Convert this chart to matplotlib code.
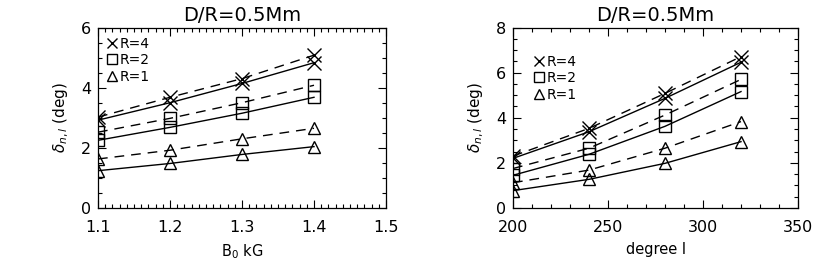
import matplotlib
matplotlib.use("Agg")
import matplotlib.pyplot as plt
from matplotlib.lines import Line2D
from matplotlib.ticker import MultipleLocator

# ---- data ----
b0 = [1.1, 1.2, 1.3, 1.4]
left_r4_solid = [2.92, 3.50, 4.14, 4.83]
left_r4_dash = [3.02, 3.68, 4.30, 5.08]
left_r2_solid = [2.25, 2.68, 3.15, 3.68]
left_r2_dash = [2.52, 2.98, 3.50, 4.08]
left_r1_solid = [1.24, 1.48, 1.78, 2.04]
left_r1_dash = [1.63, 1.92, 2.30, 2.65]

degree = [200, 240, 280, 320]
right_r4_solid = [2.20, 3.38, 4.86, 6.46]
right_r4_dash = [2.30, 3.53, 5.08, 6.71]
right_r2_solid = [1.45, 2.38, 3.62, 5.16]
right_r2_dash = [1.75, 2.65, 4.12, 5.70]
right_r1_solid = [0.77, 1.27, 1.98, 2.94]
right_r1_dash = [1.12, 1.68, 2.65, 3.83]

legend_labels = ["R=4", "R=2", "R=1"]
title = "D/R=0.5Mm"

plt.rcParams['font.family'] = ['DejaVu Sans']
plt.rcParams['mathtext.fontset'] = 'dejavusans'

fig = plt.figure(figsize=(8.13, 2.71), dpi=100)
W, H = 813, 271
ax1 = fig.add_axes([98 / W, 1 - 208 / H, (386 - 98) / W, (208 - 27.5) / H])
ax2 = fig.add_axes([513 / W, 1 - 208 / H, (798 - 513) / W, (208 - 27.5) / H])

markers = {"R=4": ("x", 10), "R=2": ("s", 9), "R=1": ("^", 9)}
dash = (7, 5)


def draw(ax, x, series):
    for label, solid, dashed in series:
        m, ms = markers[label]
        kw = dict(color='black', marker=m, markersize=ms, markerfacecolor='none',
                  markeredgecolor='black', markeredgewidth=1.0, lw=1.0)
        ax.plot(x, solid, ls='-', **kw)
        ax.plot(x, dashed, ls=(0, dash), **kw)


draw(ax1, b0, [("R=4", left_r4_solid, left_r4_dash),
               ("R=2", left_r2_solid, left_r2_dash),
               ("R=1", left_r1_solid, left_r1_dash)])
draw(ax2, degree, [("R=4", right_r4_solid, right_r4_dash),
                   ("R=2", right_r2_solid, right_r2_dash),
                   ("R=1", right_r1_solid, right_r1_dash)])

ax1.set_xlim(1.1, 1.5)
ax1.set_ylim(0, 6)
ax1.xaxis.set_major_locator(MultipleLocator(0.1))
ax1.xaxis.set_minor_locator(MultipleLocator(0.01))
ax1.yaxis.set_major_locator(MultipleLocator(2))
ax1.yaxis.set_minor_locator(MultipleLocator(0.5))
ax1.set_xticks([1.1, 1.2, 1.3, 1.4, 1.5])
ax1.set_xticklabels(["1.1", "1.2", "1.3", "1.4", "1.5"])

ax2.set_xlim(200, 350)
ax2.set_ylim(0, 8)
ax2.xaxis.set_major_locator(MultipleLocator(50))
ax2.xaxis.set_minor_locator(MultipleLocator(10))
ax2.yaxis.set_major_locator(MultipleLocator(2))
ax2.yaxis.set_minor_locator(MultipleLocator(0.5))

for ax in (ax1, ax2):
    for s in ax.spines.values():
        s.set_linewidth(0.9)
    ax.tick_params(which='both', direction='in', top=True, right=True,
                   labelsize=11.5, width=0.8)
    ax.tick_params(axis='x', pad=9)
    ax.tick_params(axis='y', pad=5)
    ax.tick_params(which='major', length=6)
    ax.tick_params(which='minor', length=3)
    ax.set_title(title, fontsize=14, pad=5)
    ax.set_ylabel(r"$\delta_{n,l}$ (deg)", fontsize=11, labelpad=7)

ax1.set_xlabel(r"B$_0$ kG", fontsize=10.5, labelpad=5)
ax2.set_xlabel("degree l", fontsize=10.5, labelpad=5)

handles = [Line2D([], [], ls='none', marker=markers[l][0], markersize=7,
                  markerfacecolor='none', markeredgecolor='black', markeredgewidth=1.0,
                  label=l) for l in legend_labels]
for ax, anchor in ((ax1, (0.035, 0.95)), (ax2, (0.075, 0.85))):
    ax.legend(handles=handles, loc='upper left', bbox_to_anchor=anchor, frameon=False,
              fontsize=10, handlelength=0.6, handletextpad=0.25, labelspacing=0.2,
              borderpad=0.0, borderaxespad=0.0)

fig.savefig("out.png", dpi=100)
